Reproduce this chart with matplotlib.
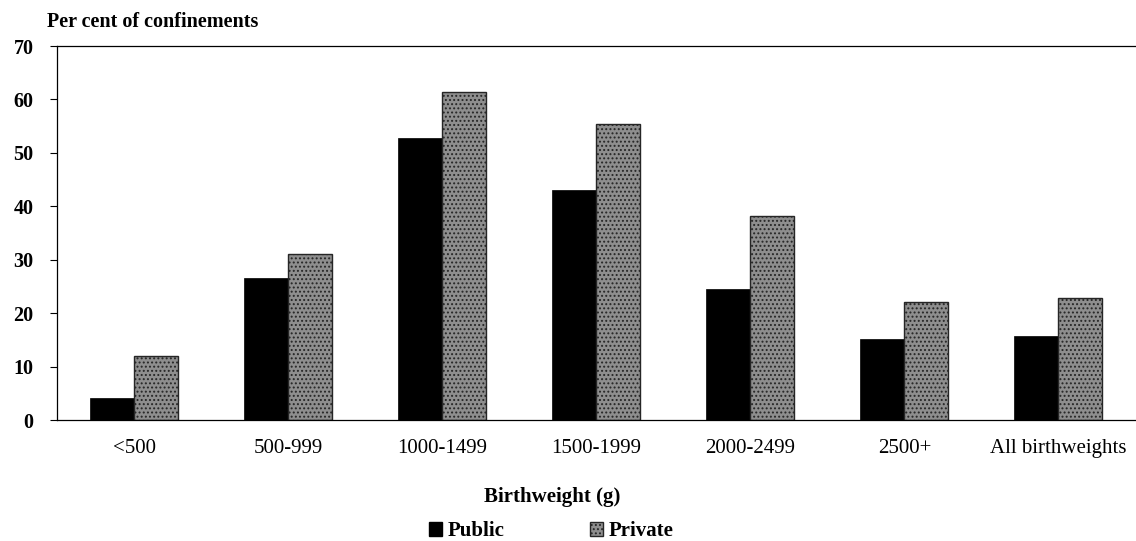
import matplotlib
matplotlib.use("Agg")
import matplotlib.pyplot as plt
from matplotlib.patches import Patch
import numpy as np

categories = ["<500", "500-999", "1000-1499", "1500-1999", "2000-2499", "2500+", "All birthweights"]
public = [4.1, 26.6, 52.8, 43.1, 24.5, 15.2, 15.8]
private = [12.0, 31.1, 61.3, 55.4, 38.2, 22.1, 22.8]
yticks = [0, 10, 20, 30, 40, 50, 60, 70]

plt.rcParams['font.family'] = ['Liberation Serif', 'DejaVu Serif']
plt.rcParams['hatch.linewidth'] = 0.9

fig = plt.figure(figsize=(11.36, 5.41), dpi=100)
ax = fig.add_axes([57/1136, 1-420/541, 1-57/1136 - 0.0005, (420-46)/541])

x = np.arange(len(categories))
w = 0.286
priv_face = '#8e8e8e'
priv_edge = '#262626'
ax.bar(x - w/2, public, width=w, color='black', edgecolor='black', linewidth=0.5)
ax.bar(x + w/2, private, width=w, color=priv_face, edgecolor=priv_edge,
       hatch='....', linewidth=1.0)

ax.set_xlim(-0.5, len(categories) - 0.5)
ax.set_ylim(0, 70)
ax.set_yticks(yticks)
ax.set_yticklabels([str(t) for t in yticks], fontsize=14.5, fontweight='bold')
ax.set_xticks(x)
ax.set_xticklabels(categories, fontsize=15)
ax.tick_params(axis='x', length=0, pad=14)
ax.tick_params(axis='y', length=5, width=0.8, pad=12, direction='out')
for s in ['left', 'bottom', 'top']:
    ax.spines[s].set_linewidth(0.9)
ax.spines['right'].set_visible(False)

fig.text(47/1136, 1-22/541, "Per cent of confinements", fontsize=14.5,
         fontweight='bold', ha='left', va='center')
fig.text(552/1136, 1-497/541, "Birthweight (g)", fontsize=15,
         fontweight='bold', ha='center', va='center')

handles = [Patch(facecolor='black', edgecolor='black'),
           Patch(facecolor=priv_face, edgecolor=priv_edge, hatch='....')]
fig.legend(handles, ["Public", "Private"], loc='center',
           bbox_to_anchor=(551/1136, 1-531/541), ncol=2, frameon=False,
           prop={'weight': 'bold', 'size': 15}, handlelength=0.65,
           handleheight=0.65, handletextpad=0.25, columnspacing=4.1,
           borderpad=0.1)

fig.savefig("out.png", dpi=100)
